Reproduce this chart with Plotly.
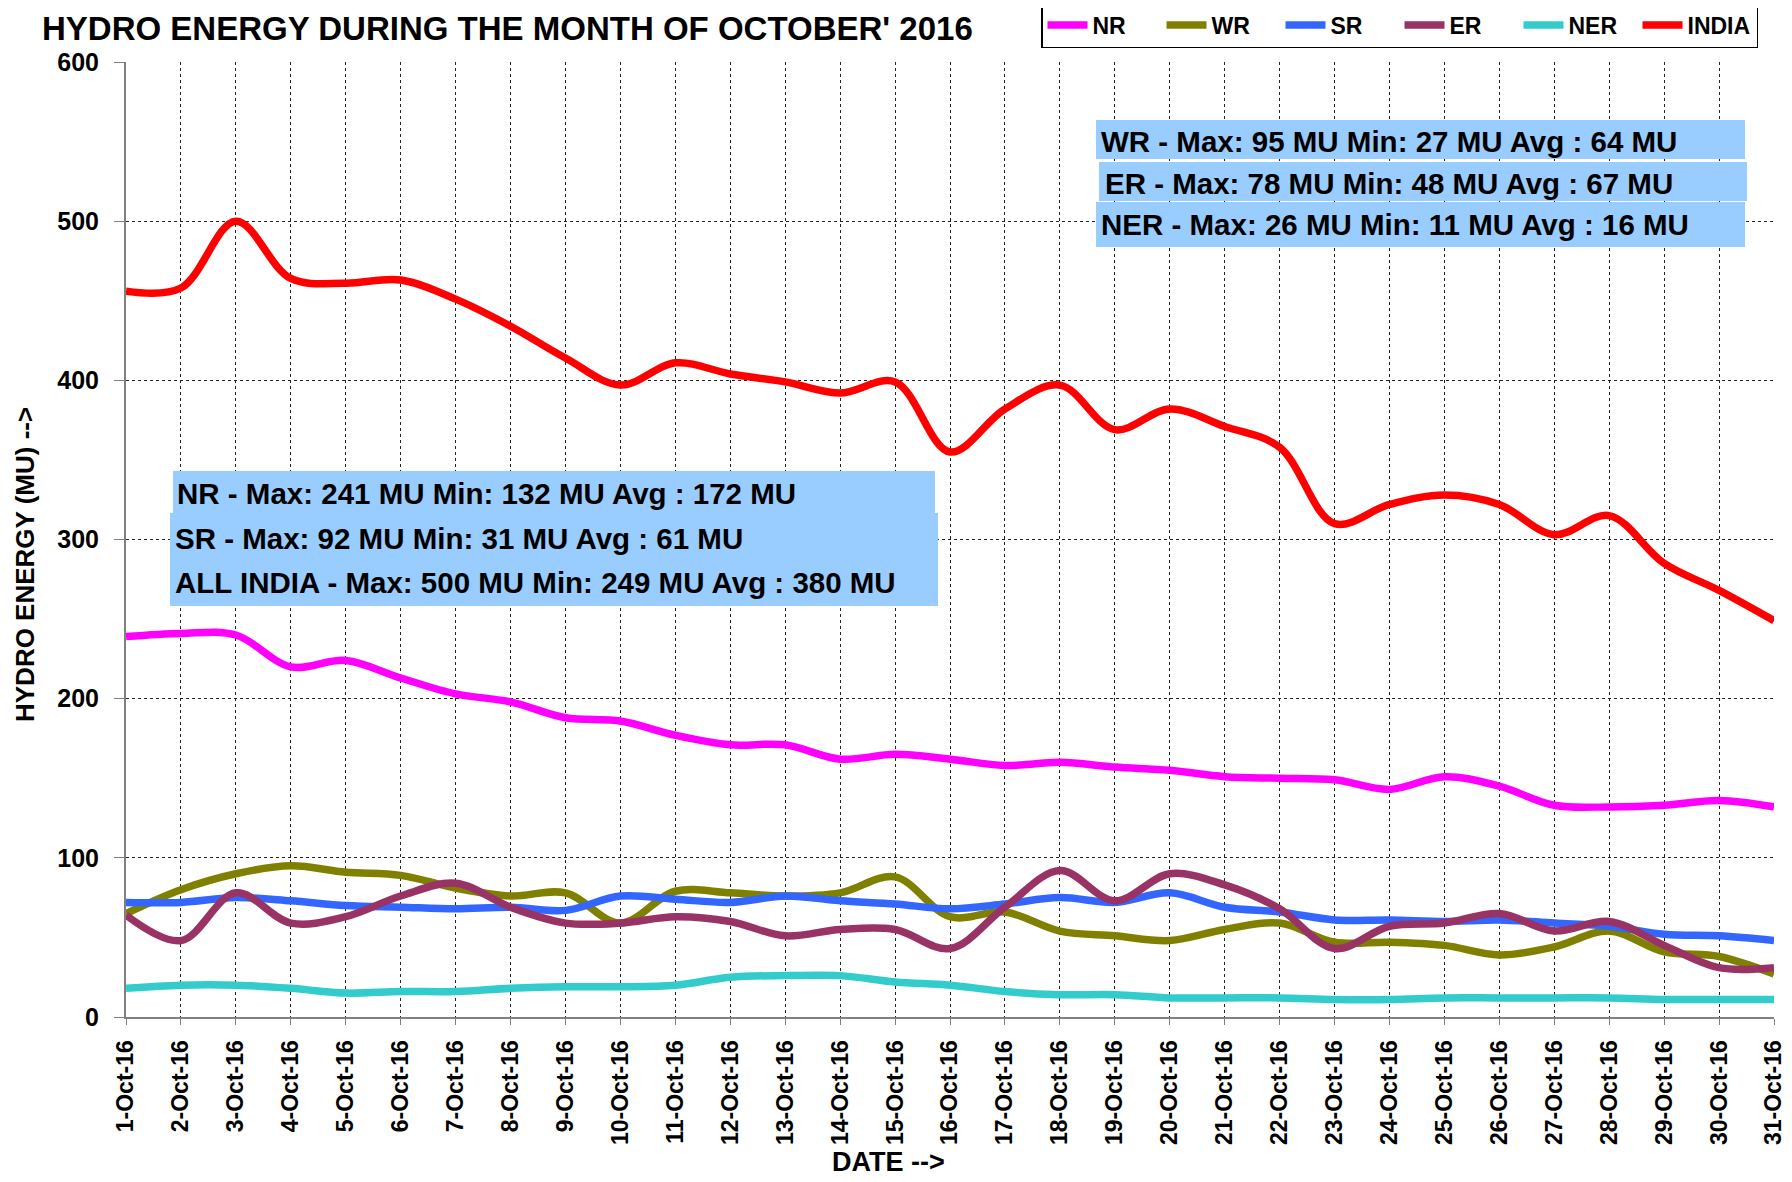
import plotly.graph_objects as go

dates = ["1-Oct-16", "2-Oct-16", "3-Oct-16", "4-Oct-16", "5-Oct-16", "6-Oct-16", "7-Oct-16",
         "8-Oct-16", "9-Oct-16", "10-Oct-16", "11-Oct-16", "12-Oct-16", "13-Oct-16", "14-Oct-16",
         "15-Oct-16", "16-Oct-16", "17-Oct-16", "18-Oct-16", "19-Oct-16", "20-Oct-16", "21-Oct-16",
         "22-Oct-16", "23-Oct-16", "24-Oct-16", "25-Oct-16", "26-Oct-16", "27-Oct-16", "28-Oct-16",
         "29-Oct-16", "30-Oct-16", "31-Oct-16"]

NR = [239, 241, 240, 220, 224, 213, 203, 198, 188, 186, 177, 171, 171, 162, 165, 162,
      158, 160, 157, 155, 151, 150, 149, 143, 151, 145, 133, 132, 133, 136, 132]
WR = [65, 80, 90, 95, 91, 89, 81, 76, 78, 59, 79, 78, 76, 78, 88, 63,
      66, 54, 51, 48, 55, 59, 47, 47, 45, 39, 44, 54, 41, 38, 27]
SR = [72, 72, 75, 73, 70, 69, 68, 69, 67, 76, 74, 72, 76, 73, 71, 68,
      71, 75, 72, 78, 69, 66, 61, 61, 60, 61, 59, 57, 52, 51, 48]
ER = [64, 48, 78, 59, 63, 76, 84, 69, 59, 59, 63, 60, 51, 55, 55, 43,
      69, 92, 73, 90, 83, 68, 43, 57, 59, 65, 54, 60, 45, 31, 31]
NER = [18, 20, 20, 18, 15, 16, 16, 18, 19, 19, 20, 25, 26, 26, 22, 20,
       16, 14, 14, 12, 12, 12, 11, 11, 12, 12, 12, 12, 11, 11, 11]
INDIA = [456, 458, 500, 464, 461, 463, 451, 434, 414, 397, 411, 404, 399, 392, 399, 355,
         382, 397, 369, 382, 371, 358, 310, 322, 328, 322, 303, 315, 285, 268, 249]

series_names = ["NR", "WR", "SR", "ER", "NER", "INDIA"]
series_values = [NR, WR, SR, ER, NER, INDIA]
series_colors = ["#FF00FF", "#808000", "#3366FF", "#993366", "#33CCCC", "#FF0000"]

box_right = ["WR - Max: 95 MU Min: 27 MU Avg : 64 MU",
             "ER - Max: 78 MU Min: 48 MU Avg : 67 MU",
             "NER - Max: 26 MU Min: 11 MU Avg : 16 MU"]
box_left = ["NR - Max: 241 MU Min: 132 MU Avg : 172 MU",
            "SR - Max: 92 MU Min: 31 MU Avg : 61 MU",
            "ALL INDIA - Max: 500 MU Min: 249 MU Avg : 380 MU"]

# page body has an 8px margin: figure is shifted, so size it to fit the window
OFF = 8
W, H = 1792 - OFF, 1182 - OFF
ML, MT, PW, PH = 126 - OFF, 62 - OFF, 1648, 955
MR, MB = W - ML - PW, H - MT - PH
FONT = "Liberation Sans, Arial, sans-serif"


def fx(px):  # target-window pixel -> paper
    return (px - 126) / PW


def fy(py):
    return (1017 - py) / PH


fig = go.Figure()
for name, vals, col in zip(series_names, series_values, series_colors):
    fig.add_trace(go.Scatter(x=dates, y=vals, name=name, mode="lines",
                             line=dict(color=col, width=7.5, shape="spline", smoothing=1.0)))

shapes = []
annotations = []
for (x0, x1, y0, y1) in [(1096, 1745, 120, 159), (1099, 1747, 162, 201), (1096, 1745, 202, 247)]:
    shapes.append(dict(type="rect", xref="paper", yref="paper", x0=fx(x0), x1=fx(x1),
                       y0=fy(y1), y1=fy(y0), fillcolor="#99CCFF", line=dict(width=0), layer="above"))
for txt, (tx, ty) in zip(box_right, [(1099, 142), (1103, 184), (1099, 225)]):
    annotations.append(dict(text=txt, xref="paper", yref="paper", x=fx(tx), y=fy(ty),
                            xanchor="left", yanchor="middle", showarrow=False,
                            font=dict(family=FONT, size=29.5, color="black", weight="bold")))
for (x0, x1, y0, y1) in [(173, 935, 471, 513), (170, 938, 513, 606)]:
    shapes.append(dict(type="rect", xref="paper", yref="paper", x0=fx(x0), x1=fx(x1),
                       y0=fy(y1), y1=fy(y0), fillcolor="#99CCFF", line=dict(width=0), layer="above"))
for txt, (tx, ty) in zip(box_left, [(175, 494), (173, 538), (173, 582)]):
    annotations.append(dict(text=txt, xref="paper", yref="paper", x=fx(tx), y=fy(ty),
                            xanchor="left", yanchor="middle", showarrow=False,
                            font=dict(family=FONT, size=29.5, color="black", weight="bold")))

annotations.append(dict(text="DATE -->", xref="paper", yref="paper", x=fx(888), y=fy(1162),
                        xanchor="center", yanchor="middle", showarrow=False,
                        font=dict(family=FONT, size=27, color="black", weight="bold")))
annotations.append(dict(text="HYDRO ENERGY (MU) -->", xref="paper", yref="paper", x=fx(25), y=fy(565),
                        xanchor="center", yanchor="middle", showarrow=False, textangle=-90,
                        font=dict(family=FONT, size=26, color="black", weight="bold")))

fig.update_layout(
    width=W, height=H,
    margin=dict(l=ML, r=MR, t=MT, b=MB, autoexpand=False),
    paper_bgcolor="white", plot_bgcolor="white",
    font=dict(family=FONT, color="black"),
    title=dict(text="HYDRO ENERGY DURING THE MONTH OF OCTOBER' 2016",
               xref="container", yref="container", x=(42 - OFF) / W, y=1 - (28 - OFF) / H,
               xanchor="left", yanchor="middle",
               font=dict(family=FONT, size=33, color="black", weight="bold")),
    legend=dict(orientation="h", x=fx(1758), y=fy(2), xanchor="right", yanchor="top",
                bgcolor="white", bordercolor="black", borderwidth=1.5,
                font=dict(family=FONT, size=23, color="black", weight="bold"),
                entrywidth=64, entrywidthmode="pixels", itemwidth=40,
                tracegroupgap=0),
    shapes=shapes,
    annotations=annotations,
    showlegend=True,
)

fig.update_xaxes(type="category", range=[0, 30], showgrid=True, gridcolor="#222222",
                 griddash="dot", gridwidth=1, showline=True, linecolor="#808080", linewidth=2,
                 ticks="outside", ticklen=6, tickcolor="#808080", tickangle=-90,
                 ticklabelstandoff=6,
                 tickfont=dict(family=FONT, size=23, color="black", weight="bold"))
fig.update_yaxes(range=[0, 600], dtick=100, showgrid=True, gridcolor="#222222",
                 griddash="dot", gridwidth=1, showline=True, linecolor="#808080", linewidth=2,
                 zeroline=False, ticks="outside", ticklen=10, tickcolor="#808080",
                 ticklabelstandoff=10,
                 tickfont=dict(family=FONT, size=25, color="black", weight="bold"))

fig.write_html("out.html")
